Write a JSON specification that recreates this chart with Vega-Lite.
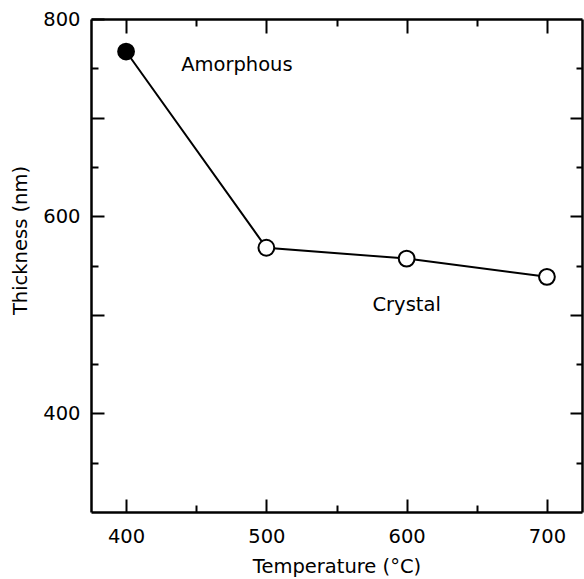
{
  "$schema": "https://vega.github.io/schema/vega-lite/v6.json",
  "autosize": {"type": "none"},
  "width": 491,
  "height": 493,
  "padding": {"left": 91, "top": 19, "right": 2, "bottom": 67},
  "background": "white",
  "config": {
    "view": {"stroke": null},
    "font": "DejaVu Sans",
    "axis": {
      "domainColor": "black",
      "domainWidth": 2.5,
      "tickColor": "black",
      "tickWidth": 2,
      "grid": false,
      "labelFont": "DejaVu Sans",
      "labelFontSize": 19.5,
      "labelColor": "black",
      "titleFont": "DejaVu Sans",
      "titleFontSize": 19.5,
      "titleFontWeight": "normal",
      "titleColor": "black"
    }
  },
  "datasets": {
    "points": [
      {"temperature": 400, "thickness": 767, "phase": "Amorphous"},
      {"temperature": 500, "thickness": 568, "phase": "Crystal"},
      {"temperature": 600, "thickness": 557, "phase": "Crystal"},
      {"temperature": 700, "thickness": 538.5, "phase": "Crystal"}
    ],
    "notes": [
      {"temperature": 479, "thickness": 753, "label": "Amorphous"},
      {"temperature": 600, "thickness": 510, "label": "Crystal"}
    ]
  },
  "resolve": {"axis": {"x": "independent", "y": "independent"}},
  "layer": [
    {
      "layer": [
        {
          "data": {"name": "points"},
          "mark": {"type": "line", "color": "black", "strokeWidth": 2},
          "encoding": {
            "x": {"field": "temperature", "type": "quantitative"},
            "y": {"field": "thickness", "type": "quantitative"}
          }
        },
        {
          "data": {"name": "points"},
          "mark": {"type": "point", "shape": "circle", "size": 250, "stroke": "black", "strokeWidth": 2, "opacity": 1, "filled": false},
          "encoding": {
            "x": {"field": "temperature", "type": "quantitative"},
            "y": {"field": "thickness", "type": "quantitative"},
            "fill": {"field": "phase", "type": "nominal", "scale": {"domain": ["Amorphous", "Crystal"], "range": ["black", "white"]}, "legend": null}
          }
        },
        {
          "data": {"name": "notes"},
          "mark": {"type": "text", "font": "DejaVu Sans", "fontSize": 19.5, "color": "black", "align": "center", "baseline": "middle"},
          "encoding": {
            "x": {"field": "temperature", "type": "quantitative"},
            "y": {"field": "thickness", "type": "quantitative"},
            "text": {"field": "label"}
          }
        }
      ],
      "encoding": {
        "x": {
          "field": "temperature", "type": "quantitative",
          "scale": {"domain": [375, 725], "nice": false, "zero": false},
          "axis": {
            "orient": "bottom",
            "title": "Temperature (°C)",
            "values": [400, 450, 500, 550, 600, 650, 700],
            "labelExpr": "datum.value % 100 === 0 ? datum.label : ''",
            "tickSize": {"condition": {"test": "datum.value % 100 !== 0", "value": -7}, "value": -13},
            "labelPadding": 28,
            "titlePadding": 12
          }
        },
        "y": {
          "field": "thickness", "type": "quantitative",
          "scale": {"domain": [300, 800], "nice": false, "zero": false},
          "axis": {
            "orient": "left",
            "title": "Thickness (nm)",
            "values": [350, 400, 450, 500, 550, 600, 650, 700, 750, 800],
            "labelExpr": "datum.value % 200 === 0 ? datum.label : ''",
            "tickSize": {"condition": {"test": "datum.value % 100 !== 0", "value": -7}, "value": -13},
            "labelPadding": 24,
            "titlePadding": 12,
            "titleY": 221
          }
        }
      }
    },
    {
      "data": {"name": "points"},
      "mark": {"type": "point", "opacity": 0},
      "encoding": {
        "x": {
          "field": "temperature", "type": "quantitative",
          "scale": {"domain": [375, 725], "nice": false, "zero": false},
          "axis": {
            "orient": "top", "title": null, "labels": false,
            "values": [400, 450, 500, 550, 600, 650, 700],
            "tickSize": {"condition": {"test": "datum.value % 100 !== 0", "value": -7}, "value": -14}
          }
        },
        "y": {
          "field": "thickness", "type": "quantitative",
          "scale": {"domain": [300, 800], "nice": false, "zero": false},
          "axis": {
            "orient": "right", "title": null, "labels": false,
            "values": [350, 400, 450, 500, 550, 600, 650, 700, 750],
            "tickSize": {"condition": {"test": "datum.value % 100 !== 0", "value": -6}, "value": -12}
          }
        }
      }
    }
  ]
}
